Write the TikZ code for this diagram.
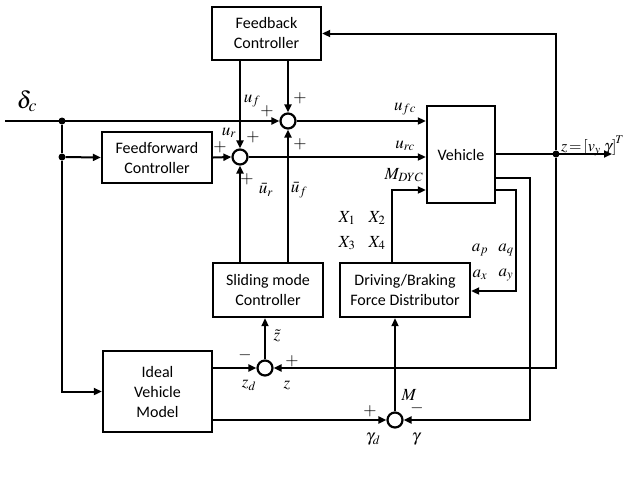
\documentclass[tikz,border=0pt]{standalone}
\usepackage{mathptmx}
\usepackage[no-math]{fontspec}
\setmainfont{Carlito}
\usetikzlibrary{arrows.meta}
\tikzset{
  blk/.style={draw, line width=2.4pt, inner sep=1pt, align=center, font=\fontsize{16}{20}\selectfont},
  sumc/.style={draw, circle, line width=2.2pt, minimum size=15pt, inner sep=0pt},
  wire/.style={line width=2pt},
  arr/.style={wire, -{Triangle[length=8pt,width=7pt]}},
  dot/.style={circle, fill, inner sep=0pt, minimum size=7pt},
  lbl/.style={inner sep=0pt, font=\fontsize{17}{18}\selectfont},
  sgn/.style={inner sep=0pt, font=\fontsize{17}{18}\selectfont}
}
\begin{document}
\begin{tikzpicture}[x=1pt,y=-1pt]
\useasboundingbox (0,0) rectangle (628,477);
% blocks
\node[blk, minimum width=109pt, minimum height=53pt] (fb) at (266.5,33.5) {Feedback\\Controller};
\node[blk, minimum width=110pt, minimum height=51pt] (ff) at (157,157.5) {Feedforward\\Controller};
\node[blk, minimum width=68pt, minimum height=97pt] (veh) at (461,154.5) {Vehicle};
\node[blk, minimum width=110pt, minimum height=54pt] (smc) at (268,290) {Sliding mode\\Controller};
\node[blk, minimum width=130pt, minimum height=54pt] (dbf) at (405,290) {Driving/Braking\\Force Distributor};
\node[blk, minimum width=109pt, minimum height=81pt] (ivm) at (157.5,391.5) {Ideal\\Vehicle\\Model};
% summing junctions
\node[sumc] (s1) at (288,121) {};
\node[sumc] (s2) at (240,157) {};
\node[sumc] (sz) at (265,368) {};
\node[sumc] (sg) at (395,420) {};
% junction dots and free ends
\node[dot] (j1) at (62,121) {};
\node[dot] (j2) at (62,157) {};
\node[dot] (j3) at (556,154) {};
\coordinate (din) at (5,121);
\coordinate (zout) at (612,154);
% delta_c input
\draw[arr] (din) -- (s1.west);
\draw[wire] (j1) -- (j2);
\draw[arr] (j2) -- (ff.west);
\draw[arr] (j2) |- (ivm.west);
\draw[arr] (ff.east) -- (s2.west);
% feedback controller outputs
\draw[arr] (fb.south -| s2) -- (s2.north);
\draw[arr] (fb.south -| s1) -- (s1.north);
% sliding mode outputs
\draw[arr] (smc.north -| s2) -- (s2.south);
\draw[arr] (smc.north -| s1) -- (s1.south);
% to vehicle
\draw[arr] (s1.east) -- (s1.east -| veh.west);
\draw[arr] (s2.east) -- (s2.east -| veh.west);
\draw[arr] (dbf.north -| 392,0) |- (veh.west |- 0,190);
% vehicle output
\draw[arr] (veh.east |- j3) -- (zout);
\draw[arr] (j3) |- (fb.east);
\draw[arr] (j3) |- (sz.east);
\draw[arr] (veh.east |- 0,178) -| (530,420) -- (sg.east);
\draw[arr] (veh.east |- 0,190) -| (516,291) -- (dbf.east |- 0,291);
% ideal model outputs
\draw[arr] (ivm.east |- sz) -- (sz.west);
\draw[arr] (ivm.east |- sg) -- (sg.west);
\draw[arr] (sz.north) -- (smc.south -| sz);
\draw[arr] (sg.north) -- (dbf.south -| sg);
% labels
\node[lbl, font=\fontsize{24}{26}\selectfont] (ldelta) at (27,101) {$\delta_c$};
\node[lbl] (luf) at (252,101) {$u_f$};
\node[sgn] (p1) at (267,111) {$+$};
\node[sgn] (p2) at (300,98) {$+$};
\node[lbl] (lur) at (229,133) {$u_r$};
\node[sgn] (p3) at (253,137) {$+$};
\node[sgn] (p4) at (220,147) {$+$};
\node[sgn] (p5) at (300,144) {$+$};
\node[sgn] (p6) at (247,179) {$+$};
\node[lbl] (lubr) at (266,190) {$\bar{u}_r$};
\node[lbl] (lubf) at (299,190) {$\bar{u}_f$};
\node[lbl] (lufc) at (405,109) {$u_{fc}$};
\node[lbl] (lurc) at (405,146) {$u_{rc}$};
\node[lbl] (lmdyc) at (404,175) {$M_{DYC}$};
\node[lbl] (lx1) at (347,218) {$X_1$};
\node[lbl] (lx2) at (377,218) {$X_2$};
\node[lbl] (lx3) at (347,243) {$X_3$};
\node[lbl] (lx4) at (377,243) {$X_4$};
\node[lbl] (lap) at (480,250) {$a_p$};
\node[lbl] (laq) at (506,250) {$a_q$};
\node[lbl] (lax) at (480,275) {$a_x$};
\node[lbl] (lay) at (506,275) {$a_y$};
\node[lbl, anchor=west, font=\fontsize{16}{18}\selectfont] (lz) at (561,146) {$z\!=\!\left[v_y\;\gamma\right]^{\!T}$};
\node[sgn] (m1) at (245,355) {$-$};
\node[lbl] (lzd) at (249,385) {$z_d$};
\node[sgn] (p7) at (292,361) {$+$};
\node[lbl] (lzz) at (287,385) {$z$};
\node[lbl] (lzt) at (277,336) {$\tilde{z}$};
\node[sgn] (p8) at (370,411) {$+$};
\node[lbl] (lgd) at (373,439) {$\gamma_d$};
\node[lbl] (lM) at (409,395) {$M$};
\node[sgn] (m2) at (417,408) {$-$};
\node[lbl] (lg) at (416,439) {$\gamma$};
\end{tikzpicture}
\end{document}
